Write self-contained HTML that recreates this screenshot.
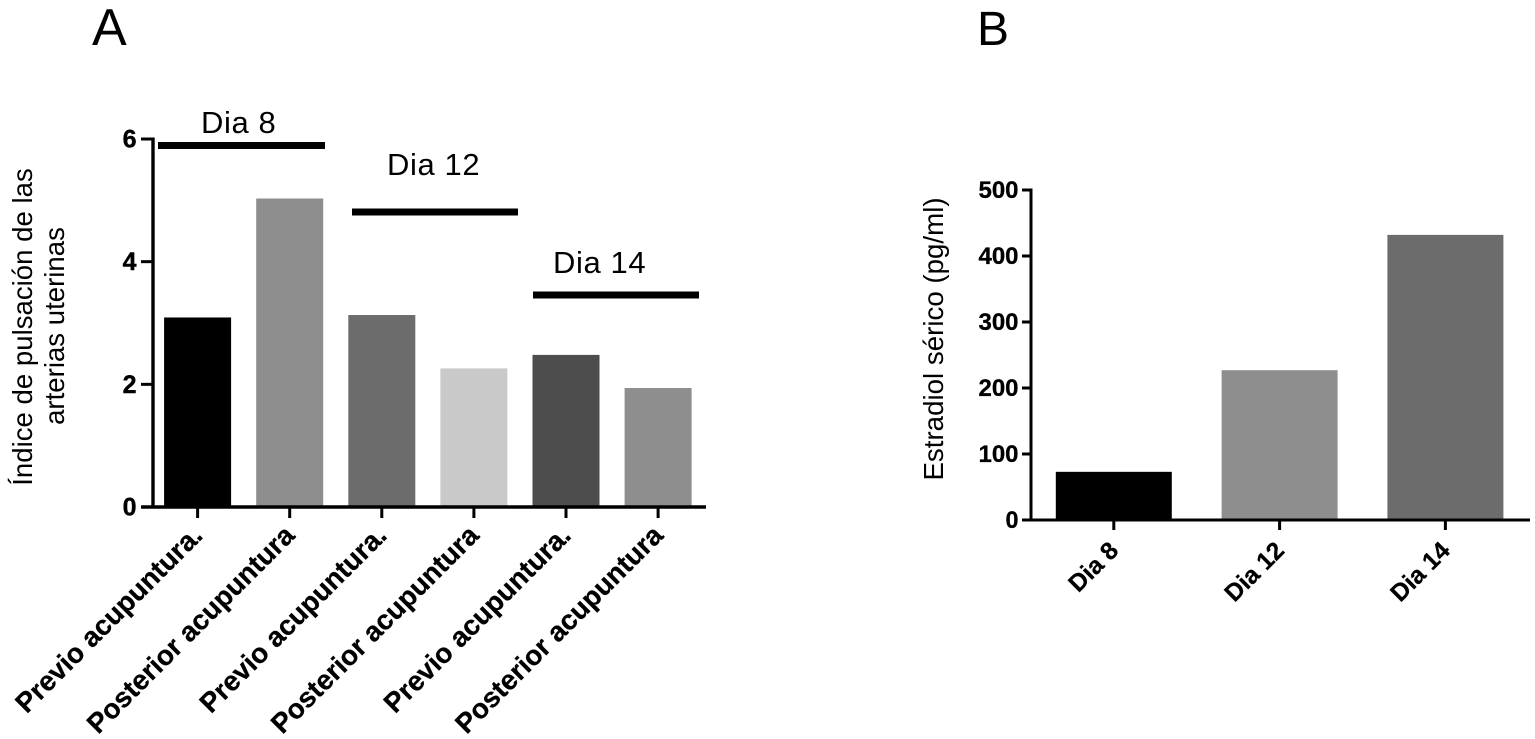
<!DOCTYPE html>
<html lang="es">
<head>
<meta charset="utf-8">
<title>Índice de pulsación y estradiol sérico</title>
<style>
html,body{margin:0;padding:0;background:#fff;width:1535px;height:739px;overflow:hidden}
svg{display:block}
text{font-family:"Liberation Sans",Arial,sans-serif;fill:#000}
</style>
</head>
<body>
<svg id="chart" width="1535" height="739" viewBox="0 0 1535 739" xmlns="http://www.w3.org/2000/svg"></svg>
<script>
const categoriesA = ['Previo acupuntura.', 'Posterior acupuntura', 'Previo acupuntura.', 'Posterior acupuntura', 'Previo acupuntura.', 'Posterior acupuntura'];
const valuesA = [3.09, 5.03, 3.13, 2.26, 2.48, 1.94];
const ticksA = [0, 2, 4, 6];
const categoriesB = ['Dia 8', 'Dia 12', 'Dia 14'];
const valuesB = [73, 227, 432];
const ticksB = [0, 100, 200, 300, 400, 500];
const coloursA = ['#000000', '#8e8e8e', '#6c6c6c', '#c9c9c9', '#4d4d4d', '#8e8e8e'];
const coloursB = ['#000000', '#8e8e8e', '#6c6c6c'];

const svg = document.getElementById('chart');
function make(tag, attrs, text) {
  const el = document.createElementNS('http://www.w3.org/2000/svg', tag);
  for (const k in attrs) el.setAttribute(k, attrs[k]);
  if (text !== undefined) el.textContent = text;
  svg.appendChild(el);
  return el;
}
function linear(d0, d1, r0, r1) {
  return v => r0 + (v - d0) * (r1 - r0) / (d1 - d0);
}

/* Panel A axis functions */
const yA = linear(0, 6, 507, 139);
const xA = i => 197.6 + i * 92.1;
const bwA = 67;

/* Panel B axis functions */
const yB = linear(0, 500, 520, 190);
const xB = i => 1113.8 + i * 165.8;
const bwB = 116;

/* Panel letters */
let t;
t = make('text', {x: 92, y: 45, 'font-size': 52}, 'A');


t = make('text', {x: 977, y: 45, 'font-size': 48}, 'B');



/* Panel A bars */
valuesA.forEach((v, i) => {
  const r = make('rect', {x: xA(i) - bwA / 2, y: yA(v), width: bwA, height: yA(0) - yA(v), fill: coloursA[i]});
  
  
});

/* Panel A axes */
let ax;
ax = make('line', {x1: 153, y1: yA(6) - 1.5, x2: 153, y2: yA(0) + 1.5, stroke: '#000', 'stroke-width': 3.4});


ax = make('line', {x1: 141, y1: yA(0), x2: 706, y2: yA(0), stroke: '#000', 'stroke-width': 3.4});



ticksA.forEach(v => {
  const tk = make('line', {x1: 141, y1: yA(v), x2: 153, y2: yA(v), stroke: '#000', 'stroke-width': 3});
  
  
  const lb = make('text', {x: 136.5, y: yA(v) + 8.5, 'font-size': 25, 'font-weight': 'bold', 'text-anchor': 'end', stroke: '#000', 'stroke-width': 0.4}, String(v));
  
  
});

categoriesA.forEach((c, i) => {
  const x = xA(i);
  const tk = make('line', {x1: x, y1: yA(0), x2: x, y2: yA(0) + 11, stroke: '#000', 'stroke-width': 3});
  
  
  const lx = x + 6.5, ly = 537;
  const lb = make('text', {x: lx, y: ly, 'font-size': 27.7, 'font-weight': 'bold', 'text-anchor': 'end', stroke: '#000', 'stroke-width': 0.3, transform: 'rotate(-45 ' + lx + ' ' + ly + ')'}, c);
  
  
});

/* Panel A y title */
t = make('text', {x: 0, y: 0, 'font-size': 27.6, 'text-anchor': 'middle', transform: 'translate(32 327) rotate(-90)'}, 'Índice de pulsación de las');


t = make('text', {x: 0, y: 0, 'font-size': 27.6, 'text-anchor': 'middle', transform: 'translate(64 326) rotate(-90)'}, 'arterias uterinas');



/* Day brackets (annotations, panel A) */
let br;
br = make('rect', {x: 158, y: 142, width: 167, height: 7, fill: '#000'});


br = make('rect', {x: 352, y: 208.5, width: 166, height: 7, fill: '#000'});


br = make('rect', {x: 533, y: 291.5, width: 166, height: 7, fill: '#000'});



t = make('text', {x: 201, y: 133, 'font-size': 31, 'letter-spacing': 0.6}, 'Dia 8');


t = make('text', {x: 387, y: 175, 'font-size': 31, 'letter-spacing': 0.6}, 'Dia 12');


t = make('text', {x: 553, y: 273, 'font-size': 31, 'letter-spacing': 0.6}, 'Dia 14');



/* Panel B bars */
valuesB.forEach((v, i) => {
  const r = make('rect', {x: xB(i) - bwB / 2, y: yB(v), width: bwB, height: yB(0) - yB(v), fill: coloursB[i]});
  
  
});

/* Panel B axes */
ax = make('line', {x1: 1031, y1: yB(500) - 1.5, x2: 1031, y2: yB(0) + 1.5, stroke: '#000', 'stroke-width': 3});


ax = make('line', {x1: 1022, y1: yB(0), x2: 1530, y2: yB(0), stroke: '#000', 'stroke-width': 3});



ticksB.forEach(v => {
  const tk = make('line', {x1: 1022, y1: yB(v), x2: 1031, y2: yB(v), stroke: '#000', 'stroke-width': 3});
  
  
  const lb = make('text', {x: 1018.5, y: yB(v) + 8, 'font-size': 24, 'font-weight': 'bold', 'text-anchor': 'end', textLength: v === 0 ? 13 : 40, lengthAdjust: 'spacingAndGlyphs', stroke: '#000', 'stroke-width': 0.3}, String(v));
  
  
});

categoriesB.forEach((c, i) => {
  const x = xB(i);
  const tk = make('line', {x1: x, y1: yB(0), x2: x, y2: yB(0) + 10, stroke: '#000', 'stroke-width': 3});
  
  
  const lx = x + 6, ly = 552;
  const lb = make('text', {x: lx, y: ly, 'font-size': 24.5, 'font-weight': 'bold', 'text-anchor': 'end', stroke: '#000', 'stroke-width': 0.3, transform: 'rotate(-45 ' + lx + ' ' + ly + ')'}, c);
  
  
});

t = make('text', {x: 0, y: 0, 'font-size': 27.7, 'text-anchor': 'middle', transform: 'translate(943 339) rotate(-90)'}, 'Estradiol sérico (pg/ml)');


</script>
</body>
</html>
